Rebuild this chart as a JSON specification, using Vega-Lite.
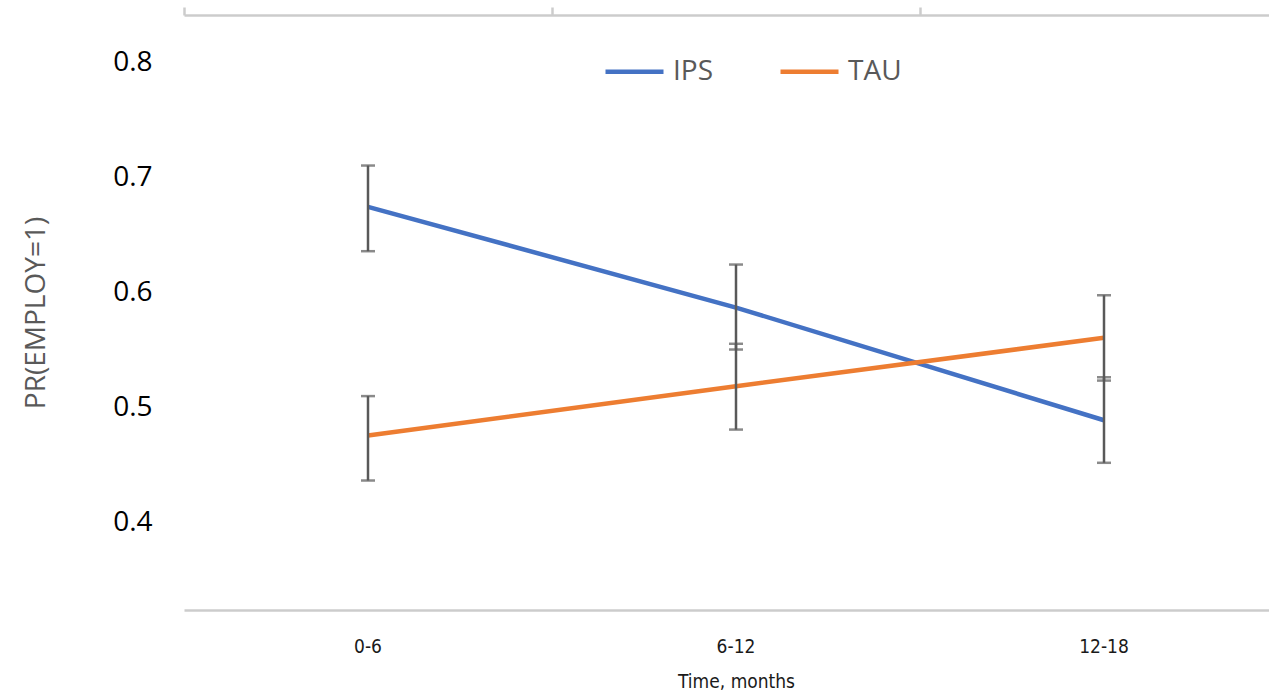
{
  "$schema": "https://vega.github.io/schema/vega-lite/v6.json",
  "width": 1085,
  "height": 595,
  "autosize": {"type": "none"},
  "padding": {"left": 184, "top": 15, "right": 0, "bottom": 84},
  "background": "white",
  "config": {"view": {"stroke": null}},
  "data": {
    "values": [
      {"time": "0-6", "group": "IPS", "value": 0.6748, "lo": 0.6362, "hi": 0.7107},
      {"time": "6-12", "group": "IPS", "value": 0.5872, "lo": 0.5507, "hi": 0.6246},
      {"time": "12-18", "group": "IPS", "value": 0.4892, "lo": 0.4522, "hi": 0.5266},
      {"time": "0-6", "group": "TAU", "value": 0.4759, "lo": 0.4368, "hi": 0.5102},
      {"time": "6-12", "group": "TAU", "value": 0.5188, "lo": 0.4811, "hi": 0.5557},
      {"time": "12-18", "group": "TAU", "value": 0.5609, "lo": 0.5237, "hi": 0.5979}
    ]
  },
  "resolve": {"axis": {"x": "independent"}},
  "layer": [
    {
      "mark": {"type": "tick", "opacity": 0},
      "encoding": {
        "x": {
          "field": "time", "type": "nominal", "sort": ["0-6", "6-12", "12-18"],
          "scale": {"type": "band", "range": [0, 1104], "paddingInner": 0, "paddingOuter": 0},
          "axis": {
            "orient": "top", "title": null, "labels": false, "bandPosition": 0,
            "ticks": true, "tickSize": 8, "tickColor": "#cccccc", "tickWidth": 2.5,
            "domainColor": "#cccccc", "domainWidth": 2.5, "grid": false
          }
        },
        "y": {"field": "value", "type": "quantitative"}
      }
    },
    {
      "mark": {"type": "line", "strokeWidth": 4.5},
      "encoding": {
        "x": {
          "field": "time", "type": "nominal", "sort": ["0-6", "6-12", "12-18"], "bandPosition": 0.5,
          "axis": {
            "orient": "bottom", "title": "Time, months", "ticks": false, "grid": false,
            "domainColor": "#cccccc", "domainWidth": 2.5,
            "labelFont": "DejaVu Sans Condensed", "labelFontSize": 19, "labelColor": "#1a1a1a",
            "labelPadding": 27, "labelAngle": 0,
            "titleFont": "DejaVu Sans Condensed", "titleFontSize": 19, "titleFontWeight": "normal",
            "titleColor": "#1a1a1a", "titlePadding": 16
          }
        },
        "y": {
          "field": "value", "type": "quantitative",
          "scale": {"domain": [0.3242, 0.8416], "nice": false, "zero": false},
          "axis": {
            "title": "PR(EMPLOY=1)", "values": [0.4, 0.5, 0.6, 0.7, 0.8], "format": ".1f",
            "domain": false, "ticks": false, "grid": false,
            "labelFont": "Open Sans", "labelFontSize": 28, "labelColor": "#000000", "labelPadding": 32,
            "titleFont": "Open Sans", "titleFontSize": 28, "titleFontWeight": "normal",
            "titleColor": "#595959", "titlePadding": 62
          }
        },
        "color": {
          "field": "group", "type": "nominal",
          "scale": {"domain": ["IPS", "TAU"], "range": ["#4472C4", "#ED7D31"]},
          "legend": {
            "title": null, "orient": "none", "direction": "horizontal",
            "legendX": 419, "legendY": 25,
            "symbolType": "stroke", "symbolSize": 3364, "symbolStrokeWidth": 4.5,
            "labelFont": "Open Sans", "labelFontSize": 28, "labelColor": "#595959",
            "labelOffset": 7, "columnPadding": 57
          }
        }
      }
    },
    {
      "mark": {"type": "rule", "color": "#595959", "strokeWidth": 2.5},
      "encoding": {
        "x": {"field": "time", "type": "nominal", "sort": ["0-6", "6-12", "12-18"], "bandPosition": 0.5, "axis": null},
        "y": {"field": "lo", "type": "quantitative"},
        "y2": {"field": "hi"}
      }
    },
    {
      "mark": {"type": "tick", "color": "#595959", "size": 14, "thickness": 2.5, "orient": "horizontal"},
      "encoding": {
        "x": {"field": "time", "type": "nominal", "sort": ["0-6", "6-12", "12-18"], "axis": null},
        "y": {"field": "lo", "type": "quantitative"}
      }
    },
    {
      "mark": {"type": "tick", "color": "#595959", "size": 14, "thickness": 2.5, "orient": "horizontal"},
      "encoding": {
        "x": {"field": "time", "type": "nominal", "sort": ["0-6", "6-12", "12-18"], "axis": null},
        "y": {"field": "hi", "type": "quantitative"}
      }
    }
  ]
}
